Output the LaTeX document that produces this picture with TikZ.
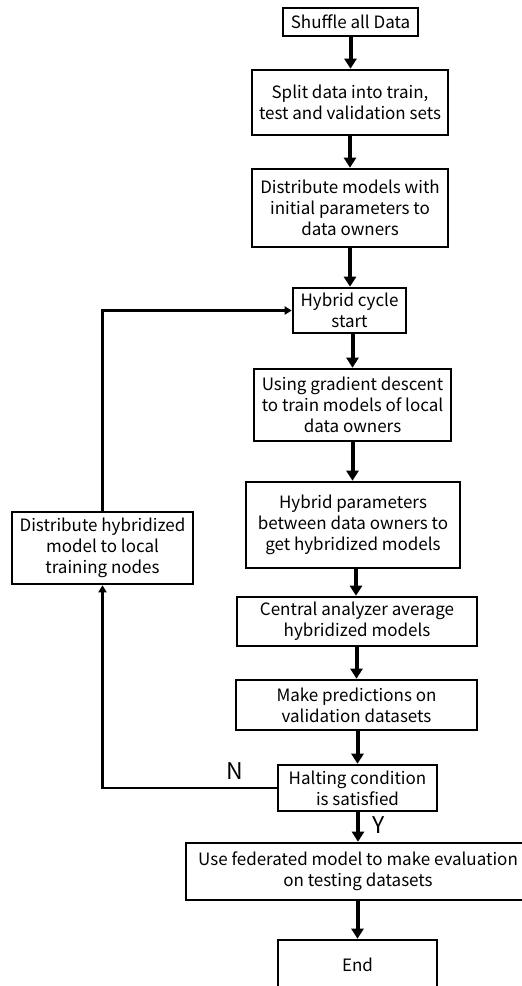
\documentclass[tikz,border=0pt]{standalone}
\usepackage{fontspec}
\setmainfont{Noto Sans CJK SC}
\usetikzlibrary{arrows.meta}
\begin{document}
\begin{tikzpicture}[x=1pt,y=-1pt,
  box/.style={draw,line width=2.6pt,inner sep=0pt,align=center,
    font=\fontsize{17}{21}\selectfont},
  flow/.style={line width=4pt,-{Triangle[width=12pt,length=10pt]}},
  back/.style={line width=2.4pt,-{Triangle[width=8pt,length=7pt]}},
  lab/.style={font=\fontsize{23}{26}\selectfont}]
\useasboundingbox (0,0) rectangle (522,986);
\node[box,minimum width=135pt,minimum height=28pt] (shuffle) at (350.5,22) {Shuffle all Data};
\node[box,minimum width=196pt,minimum height=65pt] (split) at (350,102.5) {Split data into train,\\test and validation sets};
\node[box,minimum width=196pt,minimum height=78pt] (distm) at (350,208) {Distribute models with\\initial parameters to\\data owners};
\node[box,minimum width=113pt,minimum height=45pt] (cycle) at (349.5,310.5) {Hybrid cycle\\start};
\node[box,minimum width=197pt,minimum height=72pt] (grad) at (352.5,405) {Using gradient descent\\to train models of local\\data owners};
\node[box,minimum width=214pt,minimum height=86pt] (hpar) at (353,525) {Hybrid parameters\\between data owners to\\get hybridized models};
\node[box,minimum width=240pt,minimum height=49pt] (central) at (357,621.5) {Central analyzer average\\hybridized models};
\node[box,minimum width=241pt,minimum height=50pt] (pred) at (356.5,705) {Make predictions on\\validation datasets};
\node[box,minimum width=159pt,minimum height=46pt] (halt) at (357.5,788) {Halting condition\\is satisfied};
\node[box,minimum width=344pt,minimum height=57pt] (fed) at (358,871.5) {Use federated model to make evaluation\\on testing datasets};
\node[box,minimum width=159pt,minimum height=50pt] (end) at (357.5,965) {End};
\node[box,minimum width=181pt,minimum height=72pt] (disth) at (102.5,548) {Distribute hybridized\\model to local\\training nodes};
\node[lab] (nlab) at (235,771) {N};
\node[lab] (ylab) at (379,825) {Y};
\draw[flow] (shuffle.south) -- (shuffle.south |- split.north);
\draw[flow] (split.south) -- (split.south |- distm.north);
\draw[flow] (distm.south) -- (distm.south |- cycle.north);
\draw[flow] (cycle.south -| grad.north) -- (grad.north);
\draw[flow] (grad.south) -- (grad.south |- hpar.north);
\draw[flow] (hpar.south -| 356,0) -- (central.north -| 356,0);
\draw[flow] (central.south -| pred.north) -- (pred.north);
\draw[flow] (pred.south -| halt.north) -- (halt.north);
\draw[flow] (halt.south -| fed.north) -- (fed.north);
\draw[flow] (fed.south -| end.north) -- (end.north);
\draw[back] (halt.west) -| (disth.south);
\draw[back] (disth.north) |- (cycle.west);
\end{tikzpicture}
\end{document}
